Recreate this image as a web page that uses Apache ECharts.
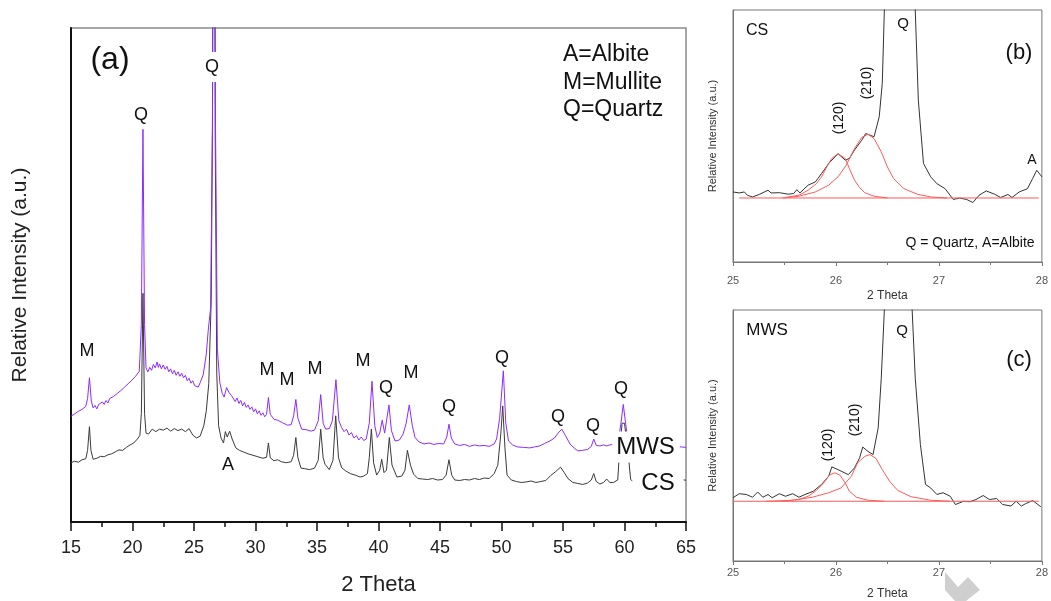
<!DOCTYPE html>
<html>
<head>
<meta charset="utf-8">
<script src="https://cdn.jsdelivr.net/npm/echarts@6/dist/echarts.min.js"></script>
<style>html,body{margin:0;padding:0;background:#fff}#c{width:1051px;height:601px}</style>
</head>
<body>
<div id="c"></div>
<script>
// ---- Panel (a): full patterns, [2θ, relative intensity a.u.] ----
const csMain = [[15.0,12.0],[15.3,12.3],[15.6,12.1],[15.9,12.6],[16.2,12.8],[16.35,14.5],[16.5,19.3],[16.62,14.5],[16.8,12.7],[17.1,12.9],[17.4,13.3],[17.7,13.2],[18.0,13.6],[18.3,13.8],[18.6,14.2],[18.9,14.6],[19.2,14.5],[19.5,15.1],[19.8,15.6],[20.1,16.0],[20.4,16.8],[20.6,17.5],[20.72,22],[20.85,46.3],[20.98,22],[21.1,18.0],[21.3,17.8],[21.6,18.8],[21.9,18.3],[22.2,18.8],[22.5,18.6],[22.8,19.0],[23.1,18.4],[23.4,18.9],[23.7,18.5],[24.0,18.8],[24.3,18.3],[24.6,18.9],[24.9,17.6],[25.2,17.0],[25.5,17.4],[25.8,19.5],[26.0,22.5],[26.2,28],[26.4,45],[26.5,80],[26.62,180],[26.72,80],[26.85,30],[27.0,19.5],[27.2,17.0],[27.4,16.0],[27.55,18.3],[27.7,17.2],[27.9,18.4],[28.1,16.8],[28.4,15.0],[28.7,14.5],[29.0,14.2],[29.4,13.8],[29.8,13.5],[30.2,13.2],[30.6,12.9],[30.9,13.1],[31.05,16.0],[31.2,13.0],[31.5,12.4],[31.8,12.6],[32.1,12.2],[32.5,12.0],[32.9,12.2],[33.1,13.5],[33.28,17.1],[33.45,13.0],[33.7,10.9],[34.0,10.8],[34.4,10.6],[34.8,10.9],[35.1,12.5],[35.3,18.8],[35.5,13.0],[35.65,11.7],[35.8,12.0],[36.0,10.6],[36.3,12.5],[36.52,21.5],[36.75,13.0],[37.0,11.0],[37.3,10.4],[37.7,9.8],[38.1,9.5],[38.5,9.1],[38.8,9.3],[39.1,9.8],[39.25,13],[39.42,18.8],[39.6,12],[39.85,9.5],[40.1,10.5],[40.26,12.7],[40.45,10.0],[40.65,10.5],[40.88,17.1],[41.1,11.5],[41.5,9.1],[41.9,9.3],[42.15,10.5],[42.35,14.5],[42.6,11.5],[42.85,9.7],[43.2,8.8],[43.6,8.7],[44.0,8.6],[44.4,8.8],[44.8,8.5],[45.2,8.6],[45.5,9.5],[45.73,12.6],[45.95,9.5],[46.2,8.5],[46.6,8.4],[47.0,8.6],[47.4,8.5],[47.8,8.8],[48.2,8.6],[48.6,8.9],[49.0,8.8],[49.4,9.8],[49.7,11.5],[49.95,18],[50.1,23.5],[50.28,15],[50.45,9.5],[50.8,8.5],[51.2,8.2],[51.6,8.0],[52.0,8.1],[52.4,8.3],[52.8,8.0],[53.2,8.2],[53.6,8.4],[54.0,9.4],[54.4,10.2],[54.8,11.1],[55.1,10.0],[55.4,8.8],[55.8,8.0],[56.2,7.8],[56.6,7.6],[57.0,7.9],[57.3,8.5],[57.5,9.8],[57.7,8.2],[58.0,7.7],[58.3,8.0],[58.55,8.7],[58.8,8.0],[59.1,8.0],[59.45,8.5],[59.55,12.5],[59.8,20],[60.0,20],[60.35,12.5],[60.5,8.6],[60.7,8.2],[61.2,8.4],[61.8,8.6],[62.5,8.3],[63.2,8.5],[64.0,8.4],[64.6,8.6],[65.0,8.45]];

const mwsMain = [[15.0,21.4],[15.3,21.9],[15.6,22.4],[15.9,22.8],[16.2,23.4],[16.35,25],[16.5,29.2],[16.65,24.5],[16.8,23.1],[16.95,23.6],[17.1,22.9],[17.25,23.8],[17.4,23.4],[17.55,24.3],[17.7,23.8],[17.85,24.6],[18.0,24.1],[18.15,25.0],[18.3,24.6],[18.45,25.4],[18.6,25.1],[18.75,26.0],[18.9,25.7],[19.05,26.6],[19.2,26.3],[19.35,27.3],[19.5,27.0],[19.65,28.0],[19.8,27.8],[19.95,28.7],[20.1,28.4],[20.25,29.5],[20.4,29.4],[20.55,30.5],[20.72,40],[20.85,79.5],[20.98,40],[21.1,31.2],[21.25,30.4],[21.4,31.3],[21.55,30.7],[21.7,31.9],[21.85,31.2],[22.0,32.4],[22.1,31.3],[22.2,32.0],[22.35,31.0],[22.5,31.8],[22.65,30.9],[22.8,31.5],[22.95,30.4],[23.1,31.0],[23.25,30.0],[23.4,30.7],[23.55,29.7],[23.7,30.4],[23.85,29.5],[24.0,30.1],[24.15,29.2],[24.3,29.7],[24.45,28.6],[24.6,29.1],[24.75,28.1],[24.9,28.6],[25.05,27.6],[25.2,27.9],[25.35,27.3],[25.5,28.2],[25.75,29.8],[26.0,34],[26.15,38.6],[26.35,43.3],[26.5,80],[26.62,200],[26.75,80],[26.9,35],[27.1,28.2],[27.3,26.0],[27.45,25.3],[27.65,27.2],[27.85,26.2],[28.05,25.6],[28.2,25.2],[28.35,24.4],[28.5,25.1],[28.65,24.0],[28.8,24.6],[28.95,23.5],[29.1,24.2],[29.25,23.2],[29.4,23.7],[29.55,22.8],[29.7,23.3],[29.85,22.3],[30.0,22.9],[30.15,21.9],[30.3,22.5],[30.45,21.6],[30.6,22.1],[30.75,21.3],[30.9,21.8],[31.05,25.2],[31.2,21.8],[31.5,20.8],[31.8,20.6],[32.2,20.1],[32.6,19.6],[32.9,19.7],[33.1,21.5],[33.28,24.8],[33.45,21.0],[33.75,18.8],[34.1,18.7],[34.5,18.4],[34.8,18.6],[35.1,20.5],[35.3,25.8],[35.5,20.0],[35.7,18.8],[36.0,18.9],[36.25,20.5],[36.54,28.8],[36.78,20.5],[37.0,19.1],[37.2,18.3],[37.4,18.8],[37.6,17.6],[37.8,18.1],[38.0,17.0],[38.2,17.5],[38.4,16.6],[38.6,17.2],[38.8,16.5],[39.0,16.8],[39.25,20],[39.47,28.5],[39.7,19.5],[39.9,17.1],[40.1,18.0],[40.3,20.6],[40.5,18.0],[40.65,17.8],[40.85,23.7],[41.05,18.5],[41.34,16.4],[41.7,16.6],[42.0,17.8],[42.25,20],[42.5,23.7],[42.75,19.5],[42.97,17.1],[43.3,16.2],[43.7,15.8],[44.1,16.0],[44.5,15.7],[44.9,15.9],[45.3,15.8],[45.55,17.2],[45.73,19.8],[45.92,17.0],[46.2,15.8],[46.6,15.5],[47.0,15.7],[47.4,15.3],[47.8,15.6],[48.2,15.4],[48.6,15.5],[49.0,15.3],[49.4,15.8],[49.6,16.8],[49.85,21],[50.15,30.6],[50.35,20],[50.57,16.4],[50.9,15.6],[51.3,15.2],[51.8,15.1],[52.3,15.0],[52.7,15.2],[53.1,15.4],[53.5,15.9],[53.94,16.4],[54.3,17.0],[54.6,18.0],[54.9,18.8],[55.2,17.5],[55.57,15.8],[55.9,15.0],[56.2,14.4],[56.6,14.5],[57.0,14.7],[57.3,15.3],[57.5,16.8],[57.7,15.5],[58.0,15.4],[58.3,15.6],[58.55,15.4],[58.8,15.6],[59.3,15.8],[59.5,16.5],[59.7,19.8],[59.9,23.8],[60.1,19.8],[60.3,16.0],[60.5,15.8],[61.0,15.5],[62.0,15.4],[63.0,15.2],[64.0,15.3],[64.6,15.2],[65.0,15.1]];

// ---- Panel (b): CS, 25–28° detail ----
const csDetail = [[25.0,27.8],[25.06,27.4],[25.11,27.8],[25.14,26.5],[25.19,25.8],[25.26,26.9],[25.34,28.5],[25.37,27.4],[25.45,27.5],[25.54,26.9],[25.59,27.2],[25.62,28.7],[25.65,27.4],[25.73,30.5],[25.80,31.8],[25.86,35.1],[25.93,39.1],[26.02,43.0],[26.09,40.4],[26.13,41.1],[26.18,44.4],[26.25,48.3],[26.29,51.0],[26.37,49.7],[26.42,57.6],[26.45,70.9],[26.47,100],[26.475,300],[26.765,300],[26.77,100],[26.80,64.2],[26.85,39.1],[26.92,33.8],[26.98,31.1],[27.06,29.1],[27.14,24.8],[27.20,25.4],[27.27,24.8],[27.33,23.6],[27.39,26.5],[27.46,28.2],[27.54,26.9],[27.60,25.6],[27.67,26.8],[27.71,25.6],[27.78,27.8],[27.86,29.1],[27.91,33.1],[27.95,36.4],[28.0,33.8]];
const csFit120 = [[25.51,25.6],[25.64,26.5],[25.73,28.5],[25.81,31.1],[25.86,33.8],[25.91,37.7],[25.96,41.1],[26.02,43.0],[26.09,41.1],[26.13,37.1],[26.18,32.5],[26.23,29.5],[26.28,27.5],[26.37,26.1],[26.50,25.4]];
const csFit210 = [[25.48,25.4],[25.64,26.1],[25.80,27.8],[25.93,30.5],[26.02,33.8],[26.10,38.4],[26.18,45.0],[26.25,49.4],[26.31,50.7],[26.37,49.0],[26.44,43.7],[26.50,37.7],[26.56,33.1],[26.66,29.1],[26.79,26.9],[26.92,25.8],[27.08,25.4]];
const csBase = [[25.06,25.4],[27.97,25.4]];

// ---- Panel (c): MWS, 25–28° detail ----
const mwsDetail = [[25.0,25.2],[25.06,26.8],[25.13,26.5],[25.19,25.4],[25.24,27.5],[25.29,25.4],[25.34,26.5],[25.38,25.2],[25.45,26.8],[25.51,25.8],[25.58,26.8],[25.64,25.4],[25.70,26.5],[25.78,27.8],[25.86,30.5],[25.93,33.8],[25.96,37.5],[26.02,36.4],[26.12,34.4],[26.18,37.1],[26.23,41.1],[26.26,45.4],[26.31,43.7],[26.36,42.4],[26.41,53.0],[26.44,72.8],[26.47,100],[26.475,300],[26.735,300],[26.74,100],[26.77,72.8],[26.82,46.4],[26.87,30.5],[26.92,29.1],[26.98,26.5],[27.04,27.2],[27.11,25.8],[27.16,22.5],[27.24,23.8],[27.30,23.6],[27.36,24.5],[27.43,26.1],[27.49,24.5],[27.56,24.9],[27.62,22.5],[27.70,21.9],[27.75,23.8],[27.80,21.9],[27.84,22.8],[27.91,24.1],[27.99,21.6]];
const mwsFit120 = [[25.48,23.8],[25.64,24.5],[25.73,25.8],[25.81,28.1],[25.88,31.1],[25.94,34.4],[25.99,35.1],[26.04,34.2],[26.09,31.1],[26.13,27.8],[26.20,25.4],[26.31,24.2],[26.47,23.8]];
const mwsFit210 = [[25.32,23.8],[25.58,24.2],[25.77,25.4],[25.93,27.2],[26.05,29.1],[26.15,33.8],[26.21,39.1],[26.28,41.7],[26.33,42.4],[26.39,40.8],[26.45,36.4],[26.52,31.8],[26.60,28.1],[26.73,25.6],[26.92,24.2],[27.11,23.8]];
const mwsBase = [[25.0,23.8],[27.97,23.8]];

// axis ranges (tick labels come from the axes: 15..65 step 5; 25..28 step 1)
const mainRange = [15, 65];
const detailRange = [25, 28];

const FONT = 'Liberation Sans, Arial, Helvetica, sans-serif';
const chart = echarts.init(document.getElementById('c'), null, {renderer: 'canvas'});

function txt(x, y, s, size, opts) {
  return Object.assign({
    type: 'text', x: x, y: y, z: 100,
    style: Object.assign({text: s, fontSize: size, fontFamily: FONT, fill: '#111', align: 'center', verticalAlign: 'middle'}, (opts && opts.style) || {})
  }, opts && opts.rotation !== undefined ? {rotation: opts.rotation} : {});
}

const detailX = (gi, margin, gap) => ({
  type: 'value', gridIndex: gi, min: detailRange[0], max: detailRange[1], interval: 1,
  axisLine: {show: true, lineStyle: {color: '#777', width: 1}},
  axisTick: {show: true, length: 4, lineStyle: {color: '#777'}},
  minorTick: {show: true, splitNumber: 2, length: 3, lineStyle: {color: '#777'}},
  splitLine: {show: false},
  axisLabel: {fontSize: 11, color: '#555', margin: margin, fontFamily: FONT},
  name: '2 Theta', nameLocation: 'middle', nameGap: gap,
  nameTextStyle: {fontSize: 12, color: '#333', fontFamily: FONT}
});
const detailY = (gi) => ({
  type: 'value', gridIndex: gi, min: 0, max: 100,
  axisLine: {show: true, lineStyle: {color: '#777', width: 1}},
  axisTick: {show: false}, axisLabel: {show: false}, splitLine: {show: false},
  name: 'Relative Intensity (a.u.)', nameLocation: 'middle', nameGap: 15,
  nameTextStyle: {fontSize: 11, color: '#333', fontFamily: FONT}
});
const line = (data, xi, color, z) => ({
  type: 'line', data: data, xAxisIndex: xi, yAxisIndex: xi, symbol: 'none',
  lineStyle: {color: color, width: 1}, clip: true, z: z || 2, silent: true
});

chart.setOption({
  animation: false,
  backgroundColor: '#fff',
  grid: [
    {left: 71, top: 28, width: 615, height: 497, show: true, borderColor: '#8a8a8a', borderWidth: 1.5},
    {left: 733, top: 10, width: 313, height: 252, show: true, borderColor: '#777', borderWidth: 1},
    {left: 733, top: 310, width: 312, height: 252, show: true, borderColor: '#777', borderWidth: 1}
  ],
  xAxis: [
    {
      type: 'value', gridIndex: 0, min: mainRange[0], max: mainRange[1], interval: 5,
      axisLine: {show: true, lineStyle: {color: '#111', width: 2}},
      axisTick: {show: true, length: 9, lineStyle: {color: '#111', width: 1.5}},
      minorTick: {show: true, splitNumber: 2, length: 5, lineStyle: {color: '#111', width: 1.5}},
      splitLine: {show: false},
      axisLabel: {fontSize: 18, color: '#222', margin: 17, fontFamily: FONT},
      name: '2 Theta', nameLocation: 'middle', nameGap: 52,
      nameTextStyle: {fontSize: 22, color: '#222', fontFamily: FONT}
    },
    detailX(1, 13, 28),
    detailX(2, 6, 27)
  ],
  yAxis: [
    {
      type: 'value', gridIndex: 0, min: 0, max: 100,
      axisLine: {show: true, lineStyle: {color: '#111', width: 2}},
      axisTick: {show: false}, axisLabel: {show: false}, splitLine: {show: false},
      name: 'Relative Intensity (a.u.)', nameLocation: 'middle', nameGap: 40,
      nameTextStyle: {fontSize: 21, color: '#222', fontFamily: FONT}
    },
    detailY(1),
    detailY(2)
  ],
  series: [
    line(csMain, 0, '#3a3a3a', 2),
    line(mwsMain, 0, '#8c2bff', 3),
    line(csDetail, 1, '#333333', 2),
    line(csFit120, 1, '#ff5a5a', 3),
    line(csFit210, 1, '#ff5a5a', 3),
    line(csBase, 1, '#ff5a5a', 3),
    line(mwsDetail, 2, '#333333', 2),
    line(mwsFit120, 2, '#ff5a5a', 3),
    line(mwsFit210, 2, '#ff5a5a', 3),
    line(mwsBase, 2, '#ff5a5a', 3)
  ],
  graphic: [
    // panel (a)
    txt(110, 60, '(a)', 32),
    txt(563, 55, 'A=Albite', 23, {style: {align: 'left'}}),
    txt(563, 83, 'M=Mullite', 23, {style: {align: 'left'}}),
    txt(563, 110, 'Q=Quartz', 23, {style: {align: 'left'}}),
    txt(212, 67, 'Q', 18, {style: {backgroundColor: '#fff', padding: [6, 8, 6, 8]}}),
    txt(141, 115, 'Q', 18),
    txt(87, 351, 'M', 18),
    txt(267, 370, 'M', 18),
    txt(287, 380, 'M', 18),
    txt(315, 369, 'M', 18),
    txt(363, 361, 'M', 18),
    txt(386, 388, 'Q', 18),
    txt(411, 373, 'M', 18),
    txt(449, 407, 'Q', 18),
    txt(502, 358, 'Q', 18),
    txt(558, 417, 'Q', 18),
    txt(593, 426, 'Q', 18),
    txt(621, 389, 'Q', 18),
    txt(228, 465, 'A', 18),
    txt(646, 447, 'MWS', 24, {style: {backgroundColor: '#fff', padding: [4, 5, 3, 4]}}),
    txt(658, 483, 'CS', 24, {style: {backgroundColor: '#fff', padding: [5, 9, 5, 9]}}),
    // panel (b)
    txt(757, 31, 'CS', 16),
    txt(1019, 53, '(b)', 22),
    txt(903, 24, 'Q', 15),
    txt(839, 118, '(120)', 14, {rotation: Math.PI / 2}),
    txt(867, 83, '(210)', 14, {rotation: Math.PI / 2}),
    txt(1032, 160, 'A', 14),
    txt(970, 243, 'Q = Quartz, A=Albite', 14),
    // panel (c)
    txt(767, 330, 'MWS', 17),
    txt(902, 331, 'Q', 15),
    txt(1019, 360, '(c)', 22),
    txt(828, 445, '(120)', 14, {rotation: Math.PI / 2}),
    txt(855, 420, '(210)', 14, {rotation: Math.PI / 2}),
    // faint watermark shape at lower right
    {type: 'polygon', z: 1, shape: {points: [[945,572],[958,587],[968,577],[980,590],[966,601],[955,601],[945,590]]}, style: {fill: '#cfcfcf'}}
  ]
});
</script>
</body>
</html>
